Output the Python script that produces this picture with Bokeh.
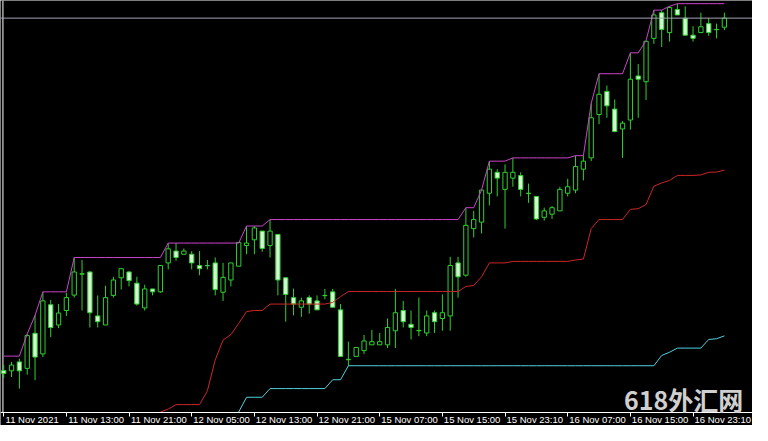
from bokeh.plotting import figure
from bokeh.models import (ColumnDataSource, Range1d, FixedTicker, LinearAxis,
                          Span, Label, CustomJSTickFormatter)
from bokeh.embed import file_html
from bokeh.resources import INLINE

nan = float("nan")

# ---- data (heights in chart units) ----
opens = [46, 45.7, 55, 48.3, 84.7, 63.3, 114.3, 93.3, 108.3, 124.3,
         146, 148.3, 102.7, 93.3, 124, 142.3, 148.3, 136.7, 111, 130.7,
         127.7, 157.7, 170, 166.7, 166.7, 155, 155, 157.7, 127.3, 140,
         154.3, 175.7, 181.7, 190.7, 175.7, 187.3, 142.3, 121.7, 111.7, 121.7,
         118.3, 124, 127.7, 109, 57.3, 60.7, 66.7, 72.7, 72.7, 72.7,
         87.3, 108.3, 94, 87.3, 85, 106, 100, 102.7, 157.7, 145,
         193.3, 200, 230, 251.7, 234, 245.7, 248.3, 230, 226.7, 205,
         208.3, 211.7, 230, 233.3, 255, 266.7, 311.7, 335.7, 317.3, 296.7,
         306, 351.7, 345.7, 390.7, 417.3, 396.7, 420.7, 411.7, 394, 396.7,
         406, 400, 402.3]
highs = [52, 55, 58.3, 84, 103.3, 127.7, 119.3, 115, 126.7, 163.3,
         160.7, 149, 124, 134, 143.3, 151.7, 149.3, 143.3, 135, 130.7,
         155, 178.3, 178.3, 172.7, 170, 170, 160.7, 163.3, 157.7, 157.7,
         178, 196, 196, 190.7, 202.7, 187.3, 142.3, 131, 121.7, 124,
         124, 130.7, 130.7, 115, 76, 70, 83, 88.3, 85, 100,
         130.7, 118.3, 108.3, 121.7, 108.3, 108.3, 125, 164, 164, 215,
         211.7, 233.3, 263.3, 255, 260, 266.7, 251.7, 240, 226.7, 215,
         216.7, 236.7, 245, 269, 269, 323.3, 354, 341.7, 327.3, 305,
         375.7, 364, 388.3, 420, 420, 424, 426.7, 424, 403.3, 417.3,
         411.7, 406, 417.3]
lows = [38, 39.3, 27.3, 41.7, 36, 60, 80.7, 90, 102.7, 121.7,
        108.3, 90.7, 90.7, 93.3, 121.7, 130, 133.3, 113.3, 108.3, 124,
        126.7, 151, 160, 166.7, 151, 145, 151, 124, 118.3, 133.3,
        154.3, 166.7, 166.7, 169.3, 163.3, 124, 96.7, 103.3, 101.7, 105,
        109, 120, 111.7, 60.7, 51, 60.7, 63.3, 72.7, 72.7, 69.3,
        69.3, 90.7, 78.3, 81.7, 81.7, 85, 87.3, 87.3, 121.7, 143.3,
        184, 188.3, 217.3, 226.7, 193.3, 236.7, 226.7, 220, 202.3, 201.7,
        203.3, 211.7, 226.7, 230, 243.3, 263.3, 301.7, 308.3, 293.3, 266.7,
        296, 308.3, 326.7, 385, 381.7, 387.3, 415, 394, 387.3, 396.7,
        393.3, 390.7, 399.3]
closes = [43, 51.7, 45.7, 82.3, 60, 118.3, 90.7, 105.7, 121.7, 148.3,
          146.5, 106, 96.7, 121.7, 140, 151.7, 139.3, 115, 130.7, 127.7,
          155, 172.3, 163.3, 170, 157.7, 151.7, 154.7, 130, 142.7, 157.7,
          179, 178.3, 194, 172.7, 190.7, 140, 125, 115, 118.3, 115,
          109, 123.7, 111.7, 60.7, 57.7, 70, 76.7, 76, 76, 90.7,
          106, 96.7, 90.7, 87.7, 102.7, 96.7, 106, 155, 143.3, 196.7,
          202.7, 233.3, 255, 245.7, 251.7, 251.7, 234, 229.7, 203.3, 211.7,
          215, 234, 236.7, 257.7, 263.3, 308.3, 332.7, 320.7, 294, 302.7,
          348.3, 348.3, 387.7, 415, 400, 422.7, 415, 394, 390.7, 402.7,
          396.7, 399.7, 411.7]
upper = [61, 61, 61, 84, 103.3, 127.7, 127.7, 127.7, 127.7, 163.3,
         163.3, 163.3, 163.3, 163.3, 163.3, 163.3, 163.3, 163.3, 163.3, 163.3,
         163.3, 178.3, 178.3, 178.3, 178.3, 178.3, 178.3, 178.3, 178.3, 178.3,
         178.3, 196, 196, 196, 202.7, 202.7, 202.7, 202.7, 202.7, 202.7,
         202.7, 202.7, 202.7, 202.7, 202.7, 202.7, 202.7, 202.7, 202.7, 202.7,
         202.7, 202.7, 202.7, 202.7, 202.7, 202.7, 202.7, 202.7, 202.7, 215,
         215, 233.3, 263.3, 263.3, 263.3, 266.7, 266.7, 266.7, 266.7, 266.7,
         266.7, 266.7, 266.7, 269, 269, 323.3, 354, 354, 354, 354,
         375.7, 375.7, 388.3, 420, 420, 424, 426.7, 426.7, 426.7, 426.7,
         426.7, 426.7, 426.7]
middle = [nan, nan, nan, nan, nan, nan, nan, nan, nan, nan,
          nan, nan, nan, nan, nan, nan, nan, nan, nan, nan,
          3, 6, 10.7, 10.7, 10.7, 10.7, 25, 57, 77.7, 83.3,
          95, 107.3, 108.3, 108.3, 115, 115, 115, 115, 115, 115,
          115, 115, 116.7, 122.7, 128, 128, 128, 128, 128, 128,
          128, 128, 128, 128, 128, 128, 128, 128, 128, 133.3,
          134.3, 143.3, 157.7, 157.7, 157.7, 159.3, 159.3, 159.3, 159.3, 159.3,
          159.3, 159.3, 159.3, 160.7, 161.7, 193.3, 202.7, 202.7, 202.7, 202.7,
          213.3, 214, 218.3, 237.3, 240.7, 243.3, 248.5, 248.5, 248.5, 249,
          251.7, 252, 254]
lower = [nan, nan, nan, nan, nan, nan, nan, nan, nan, nan,
         nan, nan, nan, nan, nan, nan, nan, nan, nan, nan,
         nan, nan, nan, nan, nan, nan, nan, nan, nan, nan,
         3, 18.3, 18.3, 18.3, 27.3, 27.3, 27.3, 27.3, 27.3, 27.3,
         27.3, 27.3, 36.5, 36.5, 51, 51, 51, 51, 51, 51,
         51, 51, 51, 51, 51, 51, 51, 51, 51, 51,
         51, 51, 51, 51, 51, 51, 51, 51, 51, 51,
         51, 51, 51, 51, 51, 51, 51, 51, 51, 51,
         51, 51, 51, 51, 61.7, 65, 69.3, 69.3, 69.3, 69.3,
         78.3, 79, 82]
tick_bars = [0, 8, 16, 24, 32, 40, 48, 56, 64, 72, 80, 88]
tick_labels = ["11 Nov 2021", "11 Nov 13:00", "11 Nov 21:00", "12 Nov 05:00",
               "12 Nov 13:00", "12 Nov 21:00", "15 Nov 07:00", "15 Nov 15:00",
               "15 Nov 23:10", "16 Nov 07:00", "16 Nov 15:00", "16 Nov 23:10"]
watermark = "618外汇网"

# ---- styling / layout ----
GREEN = "#2fd02f"
BEAR_FILL = "#d4f4d4"
MAGENTA = "#cc44cc"
RED = "#cc2626"
CYAN = "#4fd0e0"
BID = "#a4a4b4"

W, H = 752, 425
X0, X1 = -0.41, 95.59          # bar-index range across the full width
Y0, Y1 = -11, 430              # chart units; band below BASE holds the labels
BASE = 3                       # level of the time axis line
BORDER_X = -0.1                # left border line
LABEL_PX = 9.5

idx = list(range(len(opens)))
bull = [c >= o for o, c in zip(opens, closes)]

src_all = ColumnDataSource(dict(x=idx, high=highs, low=lows))
src_bull = ColumnDataSource(dict(
    x=[i for i, b in zip(idx, bull) if b],
    top=[c for c, b in zip(closes, bull) if b],
    bottom=[o for o, b in zip(opens, bull) if b]))
src_bear = ColumnDataSource(dict(
    x=[i for i, b in zip(idx, bull) if not b],
    top=[o for o, b in zip(opens, bull) if not b],
    bottom=[c for c, b in zip(closes, bull) if not b]))

p = figure(width=W, height=H, output_backend="svg", toolbar_location=None,
           x_range=Range1d(X0, X1), y_range=Range1d(Y0, Y1),
           x_axis_location=None, y_axis_location=None,
           background_fill_color="black", border_fill_color="black",
           min_border_left=0, min_border_right=0, min_border_top=0,
           min_border_bottom=0)
p.outline_line_color = None
p.grid.visible = False

# time axis drawn at the BASE level (ticks only)
tick_axis = LinearAxis(ticker=FixedTicker(ticks=tick_bars), fixed_location=BASE,
                       axis_line_color="white", axis_line_width=1,
                       major_tick_line_color="white", major_tick_out=4,
                       major_tick_in=0, minor_tick_line_color=None,
                       major_label_text_color=None,
                       major_label_text_font_size="1px",
                       major_label_standoff=0)
p.add_layout(tick_axis, "below")

# labels start just right of their tick (MT4 style)
em = {"0": .556, "1": .556, "2": .556, "3": .556, "4": .556, "5": .556,
      "6": .556, "7": .556, "8": .556, "9": .556, " ": .278, ":": .278,
      "N": .722, "o": .556, "v": .5}
px_per_bar = W / (X1 - X0)
label_pos = [t + (sum(em.get(ch, .55) for ch in s) * LABEL_PX / 2 + 1.5) / px_per_bar
             for t, s in zip(tick_bars, tick_labels)]
label_axis = LinearAxis(ticker=FixedTicker(ticks=label_pos), fixed_location=BASE,
                        formatter=CustomJSTickFormatter(
                            args=dict(names=tick_labels),
                            code="return names[index];"),
                        axis_line_color=None, major_tick_line_color=None,
                        minor_tick_line_color=None, major_tick_out=0,
                        major_tick_in=0, major_label_standoff=2,
                        major_label_text_color="white",
                        major_label_text_font="Liberation Sans",
                        major_label_text_font_size=f"{LABEL_PX}px")
p.add_layout(label_axis, "below")

# left border and bid line
p.segment(x0=[BORDER_X], y0=[BASE], x1=[BORDER_X], y1=[Y1],
          line_color="white", line_width=1)
p.add_layout(Span(location=closes[-1], dimension="width",
                  line_color=BID, line_width=1))

# candles
p.segment(x0="x", y0="high", x1="x", y1="low", source=src_all,
          line_color=GREEN, line_width=1)
p.vbar(x="x", width=0.55, top="top", bottom="bottom", source=src_bull,
       fill_color="black", line_color=GREEN, line_width=1)
p.vbar(x="x", width=0.55, top="top", bottom="bottom", source=src_bear,
       fill_color=BEAR_FILL, line_color=GREEN, line_width=1)

# channel lines
p.line(idx, upper, line_color=MAGENTA, line_width=1)
p.line(idx, middle, line_color=RED, line_width=1)
p.line(idx, lower, line_color=CYAN, line_width=1)

# watermark (sits on the time axis, bottom right)
p.add_layout(Label(x=94.4, y=17, text=watermark,
                   text_font="Noto Sans CJK SC", text_font_style="bold",
                   text_font_size="25px", text_color="#cfcfcf",
                   text_align="right", text_baseline="alphabetic"))

open("out.html", "w").write(file_html(p, INLINE))
